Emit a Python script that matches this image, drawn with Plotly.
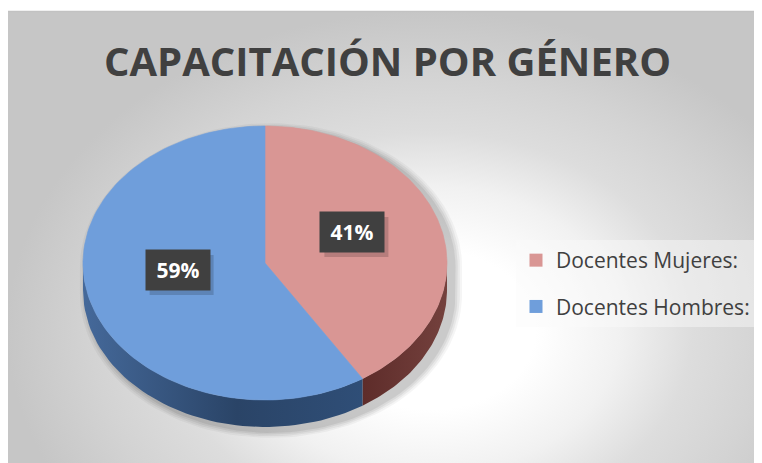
import numpy as np
import plotly.graph_objects as go

# ---------------- data ----------------
title_text = "CAPACITACIÓN POR GÉNERO"
categories = ["Docentes Mujeres:", "Docentes Hombres:"]
values = [41, 59]
label_texts = ["41%", "59%"]

# ---------------- styles ----------------
top_colors = ["#D99694", "#6F9EDB"]
side_scales = [
    [[0, "#5E2C2A"], [1, "#74413D"]],
    [[0, "#45699A"], [0.55, "#2A4467"], [1, "#2F4E77"]],
]
W, H = 762, 463
OFF = 8  # page body margin: map data units to screen pixels
CX, CY, RX, RY, DEPTH = 265, 263, 182, 137, 27
LABEL_R, LABEL_DY = 0.5, -12


def pt(theta, dy=0.0, sx=1.0, sy=1.0, ox=0.0, oy=0.0):
    th = np.asarray(theta)
    return (CX + ox + RX * sx * np.sin(th), CY + oy - RY * sy * np.cos(th) + dy)


def px(x):
    return (x - OFF) / W


def py(y):
    return 1 - (y - OFF) / H


fig = go.Figure()

# background with radial gradient
fig.add_trace(go.Scatter(
    x=[7, 853, 853, 7, 7], y=[11, 11, 649, 649, 11], mode="lines", fill="toself",
    line=dict(width=0), fillgradient=dict(
        type="radial",
        colorscale=[[0, "#FFFFFF"], [0.25, "#FFFFFF"], [0.45, "#F1F1F1"], [0.62, "#DDDDDD"],
                    [0.8, "#D3D3D3"], [1, "#C6C6C6"]]),
    hoverinfo="skip", showlegend=False))
fig.add_trace(go.Scatter(
    x=[757, 780, 780, 757, 757], y=[0, 0, 480, 480, 0], mode="lines", fill="toself",
    fillcolor="white", line=dict(width=0), hoverinfo="skip", showlegend=False))
fig.add_trace(go.Scatter(
    x=[7, 757], y=[11.5, 11.5], mode="lines", line=dict(width=1.5, color="#C2C2C2"),
    hoverinfo="skip", showlegend=False))

# soft shadow under the pie
for k, a in enumerate([0.04, 0.05, 0.06, 0.07]):
    grow = 1.05 - 0.012 * k
    t_up = np.linspace(-np.pi / 2, np.pi / 2, 80)
    t_dn = np.linspace(np.pi / 2, 3 * np.pi / 2, 80)
    xu, yu = pt(t_up, 0, grow, grow, 6, 4)
    xd, yd = pt(t_dn, DEPTH, grow, grow, 6, 4)
    fig.add_trace(go.Scatter(
        x=np.concatenate([xu, xd]), y=np.concatenate([yu, yd]), mode="lines",
        fill="toself", fillcolor=f"rgba(0,0,0,{a})", line=dict(width=0),
        hoverinfo="skip", showlegend=False))

total = sum(values)
bounds = np.concatenate([[0], np.cumsum(values) / total * 2 * np.pi])

# side walls (front half only)
for i, cat in enumerate(categories):
    a0, a1 = bounds[i], bounds[i + 1]
    lo, hi = max(a0, np.pi / 2), min(a1, 3 * np.pi / 2)
    if hi <= lo:
        continue
    t = np.linspace(lo, hi, 60)
    xt, yt = pt(t)
    xb, yb = pt(t[::-1], DEPTH)
    fig.add_trace(go.Scatter(
        x=np.concatenate([xt, xb, xt[:1]]), y=np.concatenate([yt, yb, yt[:1]]),
        mode="lines", fill="toself", line=dict(width=0),
        fillgradient=dict(type="horizontal", colorscale=side_scales[i]),
        legendgroup=cat, showlegend=False, hoverinfo="skip"))

# top faces
for i, cat in enumerate(categories):
    a0, a1 = bounds[i], bounds[i + 1]
    t = np.linspace(a0, a1, 120)
    xs, ys = pt(t)
    fig.add_trace(go.Scatter(
        x=np.concatenate([[CX], xs, [CX]]), y=np.concatenate([[CY], ys, [CY]]),
        mode="lines", fill="toself", fillcolor=top_colors[i],
        line=dict(width=0.6, color=top_colors[i]), name=cat, legendgroup=cat,
        showlegend=False, hoveron="fills",
        text=f"{cat} {label_texts[i]}", hoverinfo="text"))

# legend entries
for i, cat in enumerate(categories):
    fig.add_trace(go.Scatter(
        x=[None], y=[None], mode="markers", name=cat, legendgroup=cat,
        marker=dict(symbol="square", size=13, color=top_colors[i]), showlegend=True))

# data labels
for i, txt in enumerate(label_texts):
    mid = (bounds[i] + bounds[i + 1]) / 2
    lx, ly = pt(mid, 0, LABEL_R, LABEL_R)
    ly = ly + LABEL_DY
    fig.add_shape(type="rect", xref="x", yref="y", x0=lx - 32 + 4, x1=lx + 32 + 4,
                  y0=ly - 20 + 5, y1=ly + 20 + 5, line=dict(width=0),
                  fillcolor="rgba(0,0,0,0.16)", layer="above")
    fig.add_annotation(x=lx, y=ly, xref="x", yref="y", text=txt, showarrow=False,
                       width=64, height=40, bgcolor="#404040", borderpad=0,
                       font=dict(family="Open Sans, Liberation Sans", size=21,
                                 color="white", weight="bold"))

fig.update_layout(
    width=W, height=H, margin=dict(l=0, r=0, t=0, b=0),
    paper_bgcolor="white", plot_bgcolor="white",
    xaxis=dict(range=[OFF, W + OFF], visible=False, fixedrange=True),
    yaxis=dict(range=[H + OFF, OFF], visible=False, fixedrange=True),
    title=dict(text=title_text, x=px(387.5), xanchor="center", y=py(62), yanchor="middle",
               font=dict(family="Open Sans", size=40, color="#404040", weight="bold")),
    legend=dict(x=px(516), xanchor="left", y=py(240), yanchor="top",
                font=dict(family="Open Sans", size=21, color="#404040"),
                bgcolor="rgba(250,250,250,0.45)", tracegroupgap=16,
                itemclick="toggle"),
    showlegend=True,
)

fig.write_html("out.html")
